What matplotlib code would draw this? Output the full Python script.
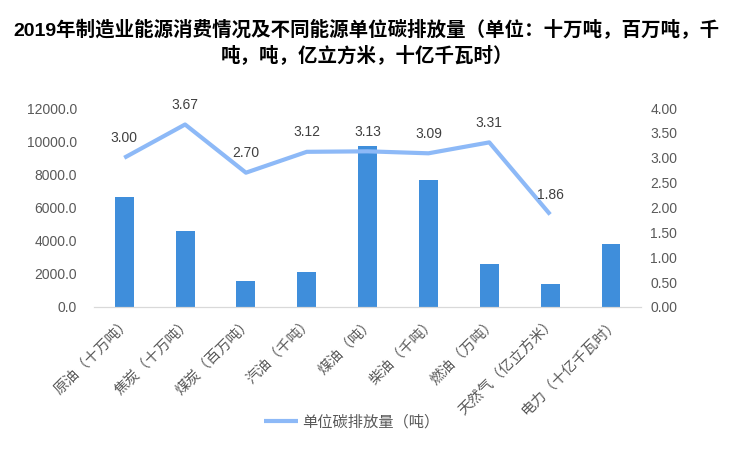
import numpy as np
import matplotlib.pyplot as plt

plt.rcParams['font.family'] = ['Liberation Sans', 'Noto Sans CJK SC']

categories = ['原油（十万吨）', '焦炭（十万吨）', '煤炭（百万吨）', '汽油（千吨）', '煤油（吨）',
              '柴油（千吨）', '燃油（万吨）', '天然气（亿立方米）', '电力（十亿千瓦时）']
consumption = [6630, 4580, 1570, 2130, 9730, 7680, 2590, 1390, 3800]
carbon = [3.00, 3.67, 2.70, 3.12, 3.13, 3.09, 3.31, 1.86, np.nan]
left_ticks = [0, 2000, 4000, 6000, 8000, 10000, 12000]
right_ticks = [0, 0.5, 1.0, 1.5, 2.0, 2.5, 3.0, 3.5, 4.0]

bar_color = '#3F8EDB'
line_color = '#8DB9F7'
text_color = '#595959'

fig = plt.figure(figsize=(7.33, 4.58), dpi=100)
ax1 = fig.add_axes([0.128, 0.330, 0.747, 0.434])
ax2 = ax1.twinx()

x = np.arange(len(categories))
ax1.bar(x, consumption, width=0.31, color=bar_color, zorder=2)
ax1.set_xlim(-0.5, len(categories) - 0.5)
ax1.set_ylim(0, 12000)
ax1.set_yticks(left_ticks)
ax1.set_yticklabels([f'{v:.1f}' for v in left_ticks])
ax1.set_xticks(x)
ax1.set_xticklabels(categories, rotation=45, ha='right', va='top', rotation_mode='anchor',
                    fontsize=10.5)

ax2.plot(x, carbon, color=line_color, linewidth=3, solid_capstyle='butt',
         label='单位碳排放量（吨）', zorder=3)
ax2.set_ylim(0, 4)
ax2.set_yticks(right_ticks)
ax2.set_yticklabels([f'{v:.2f}' for v in right_ticks])
for xi, v in zip(x, carbon):
    if not np.isnan(v):
        ax2.annotate(f'{v:.2f}', (xi, v), xytext=(0, 9), textcoords='offset points',
                     ha='center', va='bottom', fontsize=10, color='#404040')

for ax in (ax1, ax2):
    for s in ('top', 'left', 'right'):
        ax.spines[s].set_visible(False)
    ax.spines['bottom'].set_color('#D9D9D9')
    ax.tick_params(length=0, labelsize=10, labelcolor=text_color)
ax1.tick_params(axis='y', pad=12)
ax2.tick_params(axis='y', pad=6.5)
ax1.tick_params(axis='x', pad=6, labelsize=10.5)

fig.legend(loc='center', bbox_to_anchor=(0.48, 0.078), frameon=False,
           fontsize=11, labelcolor=text_color, handlelength=2.2, handletextpad=0.3)

fig.text(0.5, 0.935, '2019年制造业能源消费情况及不同能源单位碳排放量（单位：十万吨，百万吨，千',
         ha='center', va='center', fontsize=14, fontweight='bold')
fig.text(0.5, 0.88, '吨，吨，亿立方米，十亿千瓦时）',
         ha='center', va='center', fontsize=14, fontweight='bold')

fig.savefig('out.png', dpi=100)
